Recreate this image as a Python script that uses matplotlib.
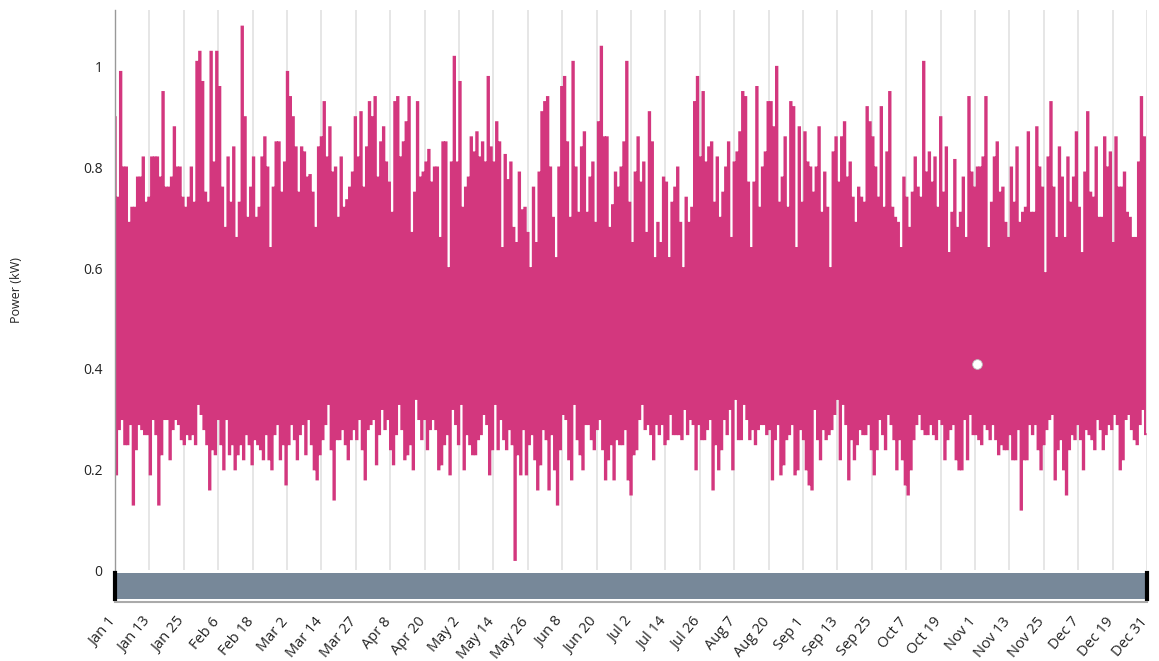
import numpy as np
import pandas as pd
import matplotlib
matplotlib.use("Agg")
import matplotlib.pyplot as plt

plt.rcParams['font.family'] = ['Open Sans', 'DejaVu Sans']

# daily peak / trough readings (kW), Jan 1 .. Dec 31
daily_high = [
    0.90, 0.74, 0.99, 0.80, 0.80, 0.69, 0.72, 0.72, 0.78, 0.78, 0.82, 0.73, 0.74, 0.82, 0.82, 0.82, 0.78, 0.95, 0.76, 0.76,
    0.78, 0.88, 0.80, 0.80, 0.74, 0.72, 0.74, 0.80, 0.73, 1.01, 1.03, 0.97, 0.75, 0.73, 1.03, 0.81, 1.03, 0.96, 0.76, 0.68,
    0.82, 0.73, 0.84, 0.66, 0.73, 1.08, 0.90, 0.70, 0.76, 0.82, 0.70, 0.72, 0.82, 0.86, 0.80, 0.64, 0.76,
    0.85, 0.85, 0.75, 0.81, 0.99, 0.94, 0.90, 0.84, 0.75, 0.84, 0.83, 0.78, 0.785, 0.75, 0.68, 0.84, 0.86, 0.93, 0.82, 0.88,
    0.79, 0.80, 0.70, 0.82, 0.72, 0.735, 0.76, 0.79, 0.90, 0.82, 0.91, 0.76, 0.84, 0.93, 0.90, 0.94, 0.78, 0.85, 0.88, 0.81,
    0.77, 0.71, 0.93, 0.94, 0.82, 0.85, 0.89, 0.94, 0.67, 0.75, 0.93, 0.78, 0.79, 0.81, 0.835, 0.77, 0.80, 0.80, 0.66, 0.85,
    0.85, 0.60, 0.81, 1.02, 0.81, 0.97, 0.72, 0.76, 0.78, 0.86, 0.83, 0.87, 0.82, 0.85, 0.81, 0.98, 0.84, 0.81, 0.89, 0.85,
    0.64, 0.825, 0.775, 0.81, 0.68, 0.65, 0.79, 0.715, 0.72, 0.67, 0.60, 0.76, 0.65, 0.79, 0.91, 0.93, 0.94, 0.80, 0.70, 0.62,
    0.80, 0.96, 0.98, 0.85, 0.70, 1.01, 0.80, 0.71, 0.84, 0.87, 0.71, 0.78, 0.81, 0.69, 0.89, 1.04, 0.86, 0.86, 0.68, 0.725,
    0.79, 0.76, 0.80, 0.85, 1.01, 0.73, 0.65, 0.79, 0.86, 0.77, 0.81, 0.67, 0.91, 0.85, 0.62, 0.69, 0.65, 0.78, 0.77, 0.62,
    0.73, 0.76, 0.80, 0.69, 0.60, 0.74, 0.69, 0.72, 0.93, 0.98, 0.82, 0.95, 0.81, 0.84, 0.85, 0.73, 0.82, 0.70, 0.75, 0.80,
    0.85, 0.66, 0.81, 0.83, 0.87, 0.95, 0.94, 0.77, 0.64, 0.77, 0.96, 0.72, 0.80, 0.83, 0.93, 0.93, 0.88, 1.00, 0.73, 0.78,
    0.86, 0.72, 0.93, 0.92, 0.64, 0.88, 0.73, 0.87, 0.81, 0.80, 0.75, 0.80, 0.88, 0.71, 0.79, 0.72, 0.60, 0.83, 0.86, 0.77,
    0.86, 0.89, 0.78, 0.81, 0.74, 0.69, 0.76, 0.74, 0.73, 0.92, 0.89, 0.86, 0.80, 0.74, 0.92, 0.72, 0.83, 0.95, 0.72, 0.70,
    0.69, 0.64, 0.78, 0.74, 0.68, 0.75, 0.82, 0.76, 0.74, 1.01, 0.79, 0.83, 0.77, 0.82, 0.72, 0.90, 0.75, 0.84, 0.63, 0.71,
    0.815, 0.68, 0.71, 0.78, 0.66, 0.94, 0.79, 0.76, 0.80, 0.80, 0.82, 0.94, 0.64, 0.73, 0.82, 0.85, 0.75, 0.76, 0.69, 0.66,
    0.80, 0.73, 0.84, 0.69, 0.71, 0.72, 0.87, 0.71, 0.71, 0.88, 0.80, 0.76, 0.59, 0.82, 0.93, 0.76, 0.66, 0.84, 0.78, 0.66,
    0.82, 0.73, 0.78, 0.87, 0.72, 0.63, 0.79, 0.91, 0.75, 0.74, 0.84, 0.70, 0.70, 0.86, 0.80, 0.83, 0.65, 0.86, 0.76, 0.76,
    0.79, 0.71, 0.70, 0.66, 0.66, 0.81, 0.94, 0.86,
]
daily_low = [
    0.19, 0.28, 0.30, 0.25, 0.25, 0.29, 0.13, 0.24, 0.29, 0.28, 0.27, 0.27, 0.19, 0.30, 0.27, 0.13, 0.23, 0.30, 0.30, 0.22,
    0.28, 0.30, 0.29, 0.26, 0.25, 0.27, 0.26, 0.27, 0.25, 0.33, 0.31, 0.28, 0.25, 0.16, 0.24, 0.23, 0.30, 0.25, 0.20, 0.30,
    0.23, 0.25, 0.20, 0.23, 0.25, 0.22, 0.27, 0.25, 0.21, 0.26, 0.25, 0.24, 0.22, 0.27, 0.22, 0.20, 0.27,
    0.29, 0.22, 0.25, 0.17, 0.25, 0.29, 0.26, 0.22, 0.27, 0.29, 0.23, 0.30, 0.25, 0.20, 0.18, 0.23, 0.26, 0.29, 0.33, 0.24,
    0.14, 0.26, 0.26, 0.28, 0.25, 0.22, 0.26, 0.28, 0.26, 0.30, 0.24, 0.18, 0.28, 0.29, 0.30, 0.21, 0.27, 0.32, 0.28, 0.30,
    0.24, 0.21, 0.27, 0.33, 0.28, 0.22, 0.23, 0.25, 0.20, 0.34, 0.30, 0.26, 0.30, 0.24, 0.28, 0.30, 0.28, 0.20, 0.21, 0.25,
    0.27, 0.19, 0.32, 0.29, 0.25, 0.33, 0.20, 0.27, 0.25, 0.23, 0.23, 0.26, 0.27, 0.31, 0.29, 0.19, 0.24, 0.33, 0.24, 0.30,
    0.26, 0.24, 0.28, 0.25, 0.02, 0.23, 0.19, 0.28, 0.19, 0.25, 0.27, 0.22, 0.16, 0.21, 0.28, 0.26, 0.16, 0.27, 0.20, 0.13,
    0.24, 0.31, 0.30, 0.22, 0.18, 0.33, 0.26, 0.23, 0.20, 0.29, 0.29, 0.26, 0.24, 0.28, 0.30, 0.24, 0.18, 0.22, 0.25, 0.18,
    0.26, 0.25, 0.25, 0.28, 0.18, 0.15, 0.23, 0.24, 0.30, 0.33, 0.28, 0.29, 0.27, 0.22, 0.29, 0.27, 0.29, 0.25, 0.26, 0.31,
    0.27, 0.27, 0.27, 0.26, 0.32, 0.27, 0.30, 0.29, 0.20, 0.29, 0.26, 0.26, 0.28, 0.30, 0.16, 0.25, 0.20, 0.24, 0.30, 0.27,
    0.32, 0.20, 0.34, 0.26, 0.26, 0.33, 0.30, 0.26, 0.28, 0.25, 0.28, 0.29, 0.29, 0.27, 0.28, 0.18, 0.26, 0.29, 0.19, 0.21,
    0.26, 0.27, 0.29, 0.19, 0.20, 0.28, 0.26, 0.20, 0.17, 0.16, 0.32, 0.26, 0.22, 0.28, 0.26, 0.27, 0.28, 0.31, 0.34, 0.22,
    0.33, 0.29, 0.18, 0.26, 0.22, 0.25, 0.28, 0.27, 0.27, 0.29, 0.24, 0.19, 0.24, 0.30, 0.27, 0.24, 0.31, 0.29, 0.26, 0.20,
    0.26, 0.22, 0.17, 0.15, 0.20, 0.26, 0.29, 0.31, 0.28, 0.27, 0.27, 0.29, 0.27, 0.26, 0.30, 0.29, 0.22, 0.26, 0.28, 0.29,
    0.22, 0.20, 0.20, 0.30, 0.22, 0.31, 0.27, 0.27, 0.26, 0.25, 0.29, 0.28, 0.26, 0.29, 0.26, 0.23, 0.25, 0.24, 0.24, 0.27,
    0.22, 0.22, 0.28, 0.12, 0.22, 0.22, 0.29, 0.27, 0.29, 0.24, 0.20, 0.25, 0.28, 0.30, 0.31, 0.18, 0.24, 0.26, 0.20, 0.15,
    0.24, 0.27, 0.26, 0.29, 0.26, 0.20, 0.28, 0.27, 0.26, 0.24, 0.30, 0.28, 0.24, 0.27, 0.29, 0.28, 0.31, 0.29, 0.20, 0.22,
    0.30, 0.31, 0.28, 0.26, 0.25, 0.29, 0.32, 0.27,
]

tick_labels = ["Jan 1", "Jan 13", "Jan 25", "Feb 6", "Feb 18", "Mar 2", "Mar 14", "Mar 27", "Apr 8", "Apr 20",
               "May 2", "May 14", "May 26", "Jun 8", "Jun 20", "Jul 2", "Jul 14", "Jul 26", "Aug 7", "Aug 20",
               "Sep 1", "Sep 13", "Sep 25", "Oct 7", "Oct 19", "Nov 1", "Nov 13", "Nov 25", "Dec 7", "Dec 19", "Dec 31"]
y_ticks = [0, 0.2, 0.4, 0.6, 0.8, 1]

hover_time = "2019-11-01 20:00"
hover_value = 0.41

start = pd.Timestamp("2019-01-01")
end = pd.Timestamp("2019-12-31 23:00")
times = pd.date_range(start, periods=2 * len(daily_high), freq="12h")
hours = (times - start) / pd.Timedelta(hours=1)
power = np.empty(len(times))
power[0::2] = daily_high
power[1::2] = daily_low
x_max = (end - start) / pd.Timedelta(hours=1)
hover_x = (pd.Timestamp(hover_time) - start) / pd.Timedelta(hours=1)

W, H = 1159, 661
fig = plt.figure(figsize=(W / 100, H / 100), dpi=100)
ax = fig.add_axes([115 / W, 1 - 570 / H, 1032 / W, 560 / H])
ax.set_xlim(0, x_max)
ax.set_ylim(0, 1.113)

tick_pos = np.linspace(0, x_max, len(tick_labels))
ax.set_xticks(tick_pos)
ax.set_xticklabels([])
ax.tick_params(axis="x", length=0)
ax.grid(axis="x", color="#e4e4e4", linewidth=1.3)
ax.set_axisbelow(True)

ax.plot(hours, power, drawstyle="steps-mid", color="#d3377e", linewidth=1.4, solid_joinstyle="miter")
ax.plot([hover_x], [hover_value], marker="o", markersize=7, markerfacecolor="white",
        markeredgecolor="#bbbbbb", markeredgewidth=0.6, linestyle="none")

ax.set_yticks(y_ticks)
ax.set_yticklabels(["0", "0.2", "0.4", "0.6", "0.8", "1"])
ax.tick_params(axis="y", length=0, pad=9, labelsize=10, labelcolor="#222222")
for s in ["top", "right", "bottom"]:
    ax.spines[s].set_visible(False)
ax.spines["left"].set_color("#999999")
ax.spines["left"].set_linewidth(1.0)
fig.text(17 / W, 1 - 290 / H, "Power (kW)", rotation=90, ha="center", va="center",
         fontsize=9, color="#222222")

# range brush below the chart
ax2 = fig.add_axes([115 / W, 1 - 599 / H, 1032 / W, 26 / H])
ax2.set_facecolor("#778899")
ax2.set_xlim(0, x_max)
ax2.set_yticks([])
ax2.set_xticks([])
for pos, lab in zip(tick_pos, tick_labels):
    ax2.annotate(lab, xy=(pos, 0), xycoords=("data", "axes fraction"),
                 xytext=(3, -11), textcoords="offset points",
                 rotation=50, ha="right", va="top", fontsize=10.5, color="#222222")
ax2.spines["top"].set_visible(False)
ax2.spines["left"].set_color("black")
ax2.spines["left"].set_linewidth(3)
ax2.spines["right"].set_color("black")
ax2.spines["right"].set_linewidth(3)
ax2.spines["bottom"].set_position(("outward", 2))
ax2.spines["bottom"].set_color("#aaaaaa")
ax2.spines["bottom"].set_linewidth(1.5)

fig.savefig("out.png", dpi=100)
